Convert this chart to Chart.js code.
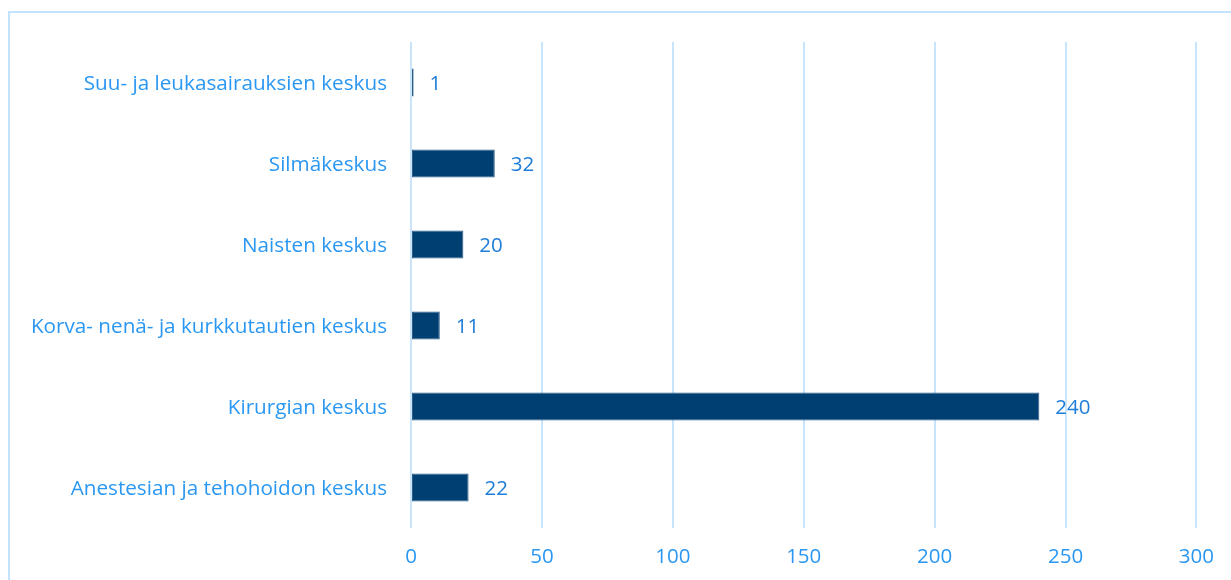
<!DOCTYPE html>
<html>
<head>
<meta charset="utf-8">
<script src="https://cdn.jsdelivr.net/npm/chart.js@4"></script>
<style>
  html, body { margin: 0; padding: 0; background: #fff; overflow: hidden; }
  #frame { position: absolute; left: 8px; top: 11px; width: 1400px; height: 800px;
           border: 2px solid #C3E2FB; box-sizing: border-box; }
  #wrap { position: absolute; left: 0; top: 0; width: 1231px; height: 580px; }
</style>
</head>
<body>
<div id="frame"></div>
<div id="wrap"><canvas id="c" width="1231" height="580"></canvas></div>
<script>
const categories = [
  "Suu- ja leukasairauksien keskus",
  "Silmäkeskus",
  "Naisten keskus",
  "Korva- nenä- ja kurkkutautien keskus",
  "Kirurgian keskus",
  "Anestesian ja tehohoidon keskus"
];
const values = [1, 32, 20, 11, 240, 22];
const xTicks = [0, 50, 100, 150, 200, 250, 300];

const FONT = "'Open Sans', Lato, sans-serif";
const LABEL_BLUE = "#2A97F2";
const VALUE_BLUE = "#1E7DD8";

const valueLabels = {
  id: 'valueLabels',
  afterDatasetsDraw(chart) {
    const ctx = chart.ctx;
    const meta = chart.getDatasetMeta(0);
    ctx.save();
    ctx.font = "20.5px " + FONT;
    ctx.fillStyle = VALUE_BLUE;
    ctx.textAlign = 'left';
    ctx.textBaseline = 'middle';
    meta.data.forEach((bar, i) => {
      ctx.fillText(String(values[i]), bar.x + 16, bar.y + 1.5);
    });
    ctx.restore();
  }
};

new Chart(document.getElementById('c'), {
  type: 'bar',
  data: {
    labels: categories,
    datasets: [{
      data: values,
      backgroundColor: '#003F72',
      borderColor: '#2F5D8A',
      borderWidth: 1,
      borderSkipped: false,
      categoryPercentage: 1.0,
      barPercentage: 0.345
    }]
  },
  options: {
    indexAxis: 'y',
    responsive: false,
    animation: false,
    layout: { padding: { left: 0, right: 34, top: 42, bottom: 0 } },
    plugins: { legend: { display: false }, tooltip: { enabled: false }, title: { display: false } },
    scales: {
      x: {
        min: 0, max: 300,
        afterBuildTicks(scale) { scale.ticks = xTicks.map(v => ({ value: v })); },
        afterFit(scale) { scale.height = 52; },
        grid: { color: '#C9E5FB', lineWidth: 2, drawTicks: false },
        border: { display: false },
        ticks: { color: LABEL_BLUE, font: { family: FONT, size: 20.5 }, padding: 17 }
      },
      y: {
        afterFit(scale) { scale.width = 411; },
        grid: { display: false, drawTicks: false },
        border: { display: false },
        ticks: { color: LABEL_BLUE, font: { family: FONT, size: 20.7 }, padding: 24, labelOffset: 2 }
      }
    }
  },
  plugins: [valueLabels]
});
</script>
</body>
</html>
